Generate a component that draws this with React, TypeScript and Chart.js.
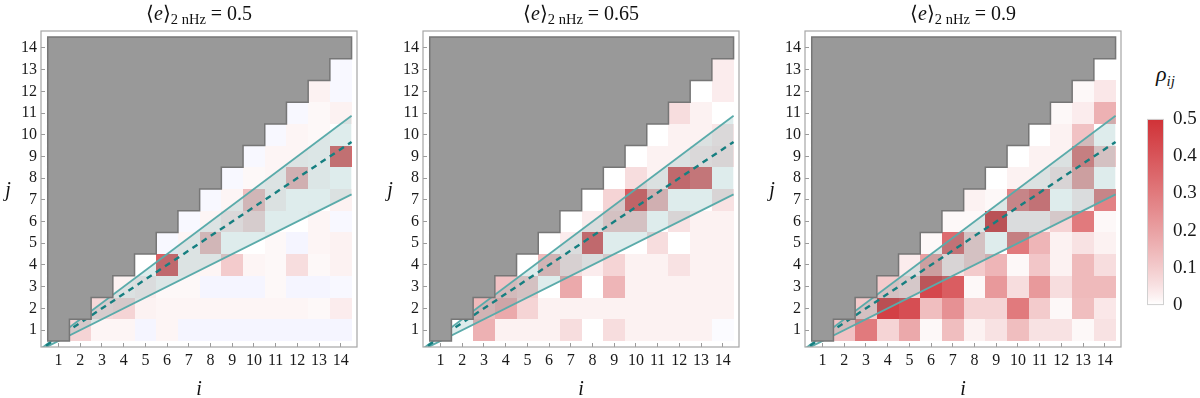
import React, { useEffect, useRef } from 'react';
import { Chart, registerables } from 'chart.js';

Chart.register(...registerables);

// ---------- data ----------
const iCategories = [1, 2, 3, 4, 5, 6, 7, 8, 9, 10, 11, 12, 13, 14];
const tickValues = [1, 2, 3, 4, 5, 6, 7, 8, 9, 10, 11, 12, 13, 14];
const panelTitles = ['0.5', '0.65', '0.9'];

// rows[j-1] holds rho_ij for i = j+1 .. 14
const rho05: number[][] = [
  [0.08, 0.015, 0.015, -0.015, 0.015, -0.015, -0.015, -0.015, -0.015, -0.015, -0.015, -0.015, -0.015],
  [0.07, 0.08, 0.02, 0.015, 0.015, 0.015, 0.015, 0.015, 0.015, 0.015, 0.01, 0.03],
  [0.02, 0.03, 0.01, 0.01, -0.015, -0.015, -0.015, 0.01, -0.015, -0.015, -0.01],
  [0.0, 0.37, 0.015, 0.015, 0.1, 0.015, 0.01, 0.06, 0.01, 0.02],
  [-0.01, 0.015, 0.13, 0.0, 0.0, 0.01, -0.015, 0.015, 0.02],
  [-0.01, 0.015, 0.04, 0.07, 0.0, 0.0, 0.015, -0.01],
  [-0.01, 0.015, 0.13, 0.02, 0.0, 0.0, 0.02],
  [-0.01, 0.01, 0.015, 0.15, 0.01, 0.0],
  [-0.01, 0.015, 0.015, 0.01, 0.35],
  [-0.01, 0.015, 0.01, 0.0],
  [-0.01, 0.01, 0.02],
  [0.02, -0.01],
  [-0.01],
];

const rho065: number[][] = [
  [0.0, 0.16, 0.02, 0.02, 0.02, 0.06, 0.0, 0.06, 0.02, 0.02, 0.02, 0.02, -0.005],
  [0.14, 0.18, 0.08, 0.02, 0.02, 0.02, 0.02, 0.02, 0.02, 0.02, 0.02, 0.02],
  [0.12, 0.1, 0.0, 0.18, 0.0, 0.15, 0.02, 0.02, 0.02, 0.02, 0.02],
  [0.0, 0.14, 0.06, 0.03, 0.08, 0.02, 0.02, 0.05, 0.02, 0.02],
  [0.0, 0.03, 0.37, 0.0, 0.0, 0.06, 0.0, 0.02, 0.02],
  [0.0, 0.03, 0.1, 0.1, 0.0, 0.05, 0.02, 0.02],
  [0.0, 0.08, 0.39, 0.15, 0.0, 0.0, 0.05],
  [0.0, 0.06, 0.02, 0.37, 0.33, 0.0],
  [0.0, 0.02, 0.02, 0.04, 0.05],
  [0.0, 0.02, 0.02, 0.04],
  [0.06, 0.02, 0.0],
  [0.0, 0.03],
  [0.03],
];

const rho09: number[][] = [
  [0.12, 0.3, 0.08, 0.18, 0.01, 0.13, 0.02, 0.05, 0.13, 0.05, 0.05, 0.01, 0.05],
  [0.1, 0.46, 0.42, 0.13, 0.24, 0.08, 0.08, 0.3, 0.1, 0.01, 0.13, 0.04],
  [0.1, 0.08, 0.44, 0.38, 0.01, 0.22, 0.06, 0.22, 0.06, 0.14, 0.14],
  [0.03, 0.2, 0.05, 0.1, 0.15, 0.01, 0.11, 0.02, 0.14, 0.06],
  [0.01, 0.34, 0.1, 0.0, 0.3, 0.15, 0.02, 0.05, 0.02],
  [0.01, 0.01, 0.45, 0.03, 0.03, 0.08, 0.3, 0.01],
  [0.02, 0.01, 0.28, 0.34, 0.0, 0.03, 0.28],
  [0.0, 0.02, 0.02, 0.05, 0.2, 0.0],
  [0.0, 0.02, 0.02, 0.3, 0.1],
  [0.0, 0.02, 0.12, 0.0],
  [0.01, 0.03, 0.16],
  [0.01, 0.04],
  [0.0],
];

// straight guide lines (endpoints)
const lineXs = [0, 14.5];
const upperLineYs = [0, 10.875];
const midLineYs = [0, 9.667];
const lowerLineYs = [0, 7.25];

// colour bar ticks
const cbMajorTicks = [0, 0.1, 0.2, 0.3, 0.4, 0.5];
const cbMinorStep = 0.02;

// ---------- styling ----------
const X_MIN = 0.19;
const X_MAX = 14.75;
const Y_MIN = 0.22;
const Y_MAX = 14.78;
const FRAME_LEFTS = [41, 423, 805];
const FRAME_W = 316;
const FRAME_TOP = 31;
const FRAME_BOTTOM = 347;
const Y_AXIS_W = 41;
const CANVAS_W = 361;
const CANVAS_H = 398;
const SERIF = '"Liberation Serif", "Times New Roman", serif';

const RED = [208, 50, 55];
const BLUE = [60, 60, 255];

function rhoColor(v: number): string {
  const target = v >= 0 ? RED : BLUE;
  const t = Math.pow(Math.min(Math.abs(v) / 0.5, 1), 0.85);
  const c = target.map((ch) => Math.round(255 + (ch - 255) * t));
  return `rgb(${c[0]},${c[1]},${c[2]})`;
}

function makeCellsPlugin(rows: number[][]) {
  return {
    id: 'cells',
    beforeDatasetsDraw(chart: any) {
      const { ctx, chartArea } = chart;
      const xs = chart.scales.x;
      const ys = chart.scales.y;
      ctx.save();
      ctx.beginPath();
      ctx.rect(chartArea.left, chartArea.top, chartArea.right - chartArea.left, chartArea.bottom - chartArea.top);
      ctx.clip();
      rows.forEach((row, jIdx) => {
        const j = jIdx + 1;
        row.forEach((v, k) => {
          const i = j + 1 + k;
          const x0 = Math.round(xs.getPixelForValue(i - 0.5));
          const x1 = Math.round(xs.getPixelForValue(i + 0.5));
          const yTop = Math.round(ys.getPixelForValue(j + 0.5));
          const yBot = Math.round(ys.getPixelForValue(j - 0.5));
          ctx.fillStyle = rhoColor(v);
          ctx.fillRect(x0, yTop, x1 - x0, yBot - yTop);
        });
      });
      ctx.restore();
    },
  };
}

const stairPoints: { x: number; y: number }[] = [{ x: 0.5, y: 0.5 }];
iCategories.forEach((i) => {
  stairPoints.push({ x: i + 0.5, y: i - 0.5 }, { x: i + 0.5, y: i + 0.5 });
});
stairPoints.push({ x: 0.5, y: 14.5 });

const maskPlugin = {
  id: 'mask',
  afterDatasetsDraw(chart: any) {
    const { ctx, chartArea } = chart;
    const xs = chart.scales.x;
    const ys = chart.scales.y;
    ctx.save();
    ctx.beginPath();
    ctx.rect(chartArea.left, chartArea.top, chartArea.right - chartArea.left, chartArea.bottom - chartArea.top);
    ctx.clip();
    ctx.beginPath();
    stairPoints.forEach((p, k) => {
      const px = xs.getPixelForValue(p.x);
      const py = ys.getPixelForValue(p.y);
      if (k === 0) ctx.moveTo(px, py);
      else ctx.lineTo(px, py);
    });
    ctx.closePath();
    ctx.fillStyle = '#999999';
    ctx.fill();
    ctx.lineWidth = 1.5;
    ctx.strokeStyle = '#767676';
    ctx.lineJoin = 'miter';
    ctx.stroke();
    ctx.restore();
  },
};

const framePlugin = {
  id: 'frame',
  afterDraw(chart: any) {
    const { ctx, chartArea } = chart;
    ctx.save();
    ctx.strokeStyle = '#a6a6a6';
    ctx.lineWidth = 1.2;
    ctx.strokeRect(chartArea.left, chartArea.top, chartArea.right - chartArea.left, chartArea.bottom - chartArea.top);
    ctx.restore();
  },
};

function axisOptions(axis: 'x' | 'y') {
  return {
    type: 'linear',
    min: axis === 'x' ? X_MIN : Y_MIN,
    max: axis === 'x' ? X_MAX : Y_MAX,
    afterBuildTicks: (s: any) => {
      s.ticks = tickValues.map((v) => ({ value: v }));
    },
    afterFit: (s: any) => {
      if (axis === 'x') s.height = CANVAS_H - FRAME_BOTTOM;
      else s.width = Y_AXIS_W;
    },
    ticks: {
      autoSkip: false,
      maxRotation: 0,
      padding: 8,
      color: '#1a1a1a',
      font: { family: SERIF, size: 16 },
      callback: (v: any) => String(v),
    },
    grid: {
      display: true,
      drawOnChartArea: false,
      drawTicks: true,
      tickLength: -4,
      color: '#9a9a9a',
      lineWidth: 1,
    },
    border: { display: false },
  };
}

function makeConfig(rows: number[][]): any {
  const pts = (ys: number[]) => lineXs.map((x, k) => ({ x, y: ys[k] }));
  return {
    type: 'scatter',
    data: {
      datasets: [
        {
          label: 'mid',
          data: pts(midLineYs),
          showLine: true,
          borderColor: '#167f80',
          borderWidth: 2.4,
          borderDash: [6, 5],
          pointRadius: 0,
          fill: false,
          order: 1,
        },
        {
          label: 'upper',
          data: pts(upperLineYs),
          showLine: true,
          borderColor: '#5aabaa',
          borderWidth: 1.8,
          pointRadius: 0,
          fill: false,
          order: 2,
        },
        {
          label: 'lower',
          data: pts(lowerLineYs),
          showLine: true,
          borderColor: '#5aabaa',
          borderWidth: 1.8,
          pointRadius: 0,
          fill: '-1',
          backgroundColor: 'rgba(70,150,150,0.18)',
          order: 3,
        },
      ],
    },
    options: {
      animation: false,
      responsive: false,
      maintainAspectRatio: false,
      events: [],
      layout: { padding: { top: FRAME_TOP, right: CANVAS_W - Y_AXIS_W - FRAME_W, left: 0, bottom: 0 } },
      plugins: {
        legend: { display: false },
        tooltip: { enabled: false },
        title: { display: false },
      },
      scales: { x: axisOptions('x'), y: axisOptions('y') },
    },
    plugins: [makeCellsPlugin(rows), maskPlugin, framePlugin],
  };
}

// ---------- colour bar ----------
const CB_LEFT = 1147;
const CB_W = 17;
const CB_TOP = 108;
const CB_BOTTOM = 308;
const CB_AXIS_W = 53;
const CB_CANVAS_TOP = 96;
const CB_CANVAS_H = 232;

const cbPlugin = {
  id: 'cbar',
  beforeDatasetsDraw(chart: any) {
    const { ctx, chartArea } = chart;
    const ys = chart.scales.y;
    const y0 = ys.getPixelForValue(0);
    const y1 = ys.getPixelForValue(0.5);
    const g = ctx.createLinearGradient(0, y0, 0, y1);
    for (let k = 0; k <= 25; k++) {
      const v = (k / 25) * 0.5;
      g.addColorStop(v / 0.5, rhoColor(v));
    }
    ctx.save();
    ctx.fillStyle = g;
    ctx.fillRect(chartArea.left, chartArea.top, chartArea.right - chartArea.left, chartArea.bottom - chartArea.top);
    ctx.strokeStyle = '#d0d0d0';
    ctx.lineWidth = 1;
    ctx.strokeRect(chartArea.left + 0.5, chartArea.top, chartArea.right - chartArea.left - 1, chartArea.bottom - chartArea.top);
    ctx.restore();
  },
};

function makeCbConfig(): any {
  return {
    type: 'scatter',
    data: { datasets: [] },
    options: {
      animation: false,
      responsive: false,
      maintainAspectRatio: false,
      events: [],
      layout: { padding: { top: CB_TOP - CB_CANVAS_TOP, bottom: CB_CANVAS_TOP + CB_CANVAS_H - CB_BOTTOM, left: 0, right: 0 } },
      plugins: { legend: { display: false }, tooltip: { enabled: false } },
      scales: {
        x: { display: false, min: 0, max: 1 },
        y: {
          type: 'linear',
          position: 'right',
          min: 0,
          max: 0.5,
          afterBuildTicks: (s: any) => {
            const t: { value: number }[] = [];
            for (let k = 0; k <= Math.round(0.5 / cbMinorStep); k++) t.push({ value: Math.round(k * cbMinorStep * 100) / 100 });
            s.ticks = t;
          },
          afterFit: (s: any) => {
            s.width = CB_AXIS_W;
          },
          ticks: {
            autoSkip: false,
            padding: 12,
            color: '#1a1a1a',
            font: { family: SERIF, size: 19 },
            callback: (v: any) => (cbMajorTicks.some((m) => Math.abs(m - v) < 1e-6) ? String(v) : ''),
          },
          grid: {
            display: true,
            drawOnChartArea: false,
            drawTicks: true,
            tickLength: -3,
            color: '#c4c4c4',
            lineWidth: 1,
          },
          border: { display: false },
        },
      },
    },
    plugins: [cbPlugin],
  };
}

// ---------- components ----------
function Panel({ index, rows }: { index: number; rows: number[][] }) {
  const ref = useRef<HTMLCanvasElement>(null);
  useEffect(() => {
    const chart = new Chart(ref.current as HTMLCanvasElement, makeConfig(rows));
    return () => chart.destroy();
  }, [rows]);
  const frameLeft = FRAME_LEFTS[index];
  const cx = frameLeft + FRAME_W / 2;
  return (
    <>
      <canvas
        ref={ref}
        width={CANVAS_W}
        height={CANVAS_H}
        style={{ position: 'absolute', left: frameLeft - Y_AXIS_W, top: 0, width: CANVAS_W, height: CANVAS_H }}
      />
      <div
        style={{
          position: 'absolute',
          left: cx,
          top: 3,
          transform: 'translateX(-50%)',
          fontFamily: SERIF,
          fontSize: 20,
          lineHeight: 1,
          whiteSpace: 'nowrap',
          color: '#111',
        }}
      >
        {'\u27E8'}
        <i>e</i>
        {'\u27E9'}
        <span style={{ fontSize: 14.5, position: 'relative', top: 4 }}>2 nHz</span>
        {' = ' + panelTitles[index]}
      </div>
      <div
        style={{
          position: 'absolute',
          left: frameLeft - 33,
          top: 179,
          transform: 'translateX(-50%)',
          fontFamily: SERIF,
          fontStyle: 'italic',
          fontSize: 20,
          lineHeight: 1,
          color: '#111',
        }}
      >
        j
      </div>
      <div
        style={{
          position: 'absolute',
          left: cx,
          top: 378,
          transform: 'translateX(-50%)',
          fontFamily: SERIF,
          fontStyle: 'italic',
          fontSize: 20,
          lineHeight: 1,
          color: '#111',
        }}
      >
        i
      </div>
    </>
  );
}

function ColorBar() {
  const ref = useRef<HTMLCanvasElement>(null);
  useEffect(() => {
    const chart = new Chart(ref.current as HTMLCanvasElement, makeCbConfig());
    return () => chart.destroy();
  }, []);
  const w = CB_W + CB_AXIS_W;
  return (
    <>
      <canvas
        ref={ref}
        width={w}
        height={CB_CANVAS_H}
        style={{ position: 'absolute', left: CB_LEFT, top: CB_CANVAS_TOP, width: w, height: CB_CANVAS_H }}
      />
      <div
        style={{
          position: 'absolute',
          left: 1156,
          top: 63,
          fontFamily: SERIF,
          fontStyle: 'italic',
          fontSize: 22,
          lineHeight: 1,
          whiteSpace: 'nowrap',
          color: '#111',
        }}
      >
        ρ<span style={{ fontSize: 15, position: 'relative', top: 5 }}>ij</span>
      </div>
    </>
  );
}

export default function App() {
  const allRows = [rho05, rho065, rho09];
  return (
    <div style={{ position: 'absolute', left: 0, top: 0, width: 1200, height: 398, background: '#fff', overflow: 'hidden' }}>
      {allRows.map((rows, k) => (
        <Panel key={k} index={k} rows={rows} />
      ))}
      <ColorBar />
    </div>
  );
}
